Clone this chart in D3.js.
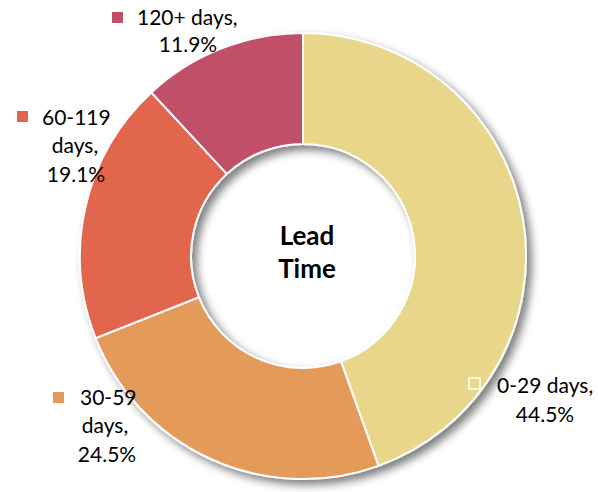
<!DOCTYPE html>
<html><head><meta charset="utf-8">
<script src="https://cdn.jsdelivr.net/npm/d3@7"></script>
<style>body{margin:0;background:#fff}svg{display:block}</style>
</head><body>
<svg id="c" width="598" height="492"></svg>
<script>
const categories = ["0-29 days", "30-59 days", "60-119 days", "120+ days"];
const values = [44.5, 24.5, 19.1, 11.9];
const colors = ["#E8D68A", "#E49A59", "#E2654E", "#C04F68"];
const centerTitle = ["Lead", "Time"];

const svg = d3.select("#c");
const cx = 303, cy = 256, R = 223, r = 112;
const defs = svg.append("defs");
const f = defs.append("filter").attr("id","sh").attr("x","-20%").attr("y","-20%").attr("width","140%").attr("height","140%");
f.append("feDropShadow").attr("dx",5).attr("dy",5).attr("stdDeviation",4).attr("flood-color","#000").attr("flood-opacity",0.5);

const pie = d3.pie().sort(null).value(d=>d)(values);
const arc = d3.arc().innerRadius(r).outerRadius(R);
const g = svg.append("g").attr("transform",`translate(${cx},${cy})`).attr("filter","url(#sh)");
g.selectAll("path").data(pie).join("path")
  .attr("d",arc).attr("fill",(d,i)=>colors[i])
  .attr("stroke","#fff").attr("stroke-width",2);

const font = "Lato, 'Open Sans', sans-serif";
const ct = svg.append("text").attr("text-anchor","middle").attr("font-family",font)
  .attr("font-weight","bold").attr("font-size",26).attr("fill","#000");
centerTitle.forEach((t,i)=>ct.append("tspan").attr("x",307).attr("y",245+i*33).text(t));

const labels = [
  {i:0, marker:[469,378], lines:[["0-29 days,",497,393,"start"],["44.5%",545,422,"middle"]]},
  {i:1, marker:[53,392], lines:[["30-59",80,405,"start"],["days,",105,433,"middle"],[values[1].toFixed(1)+"%",107,462,"middle"]]},
  {i:2, marker:[17,111], lines:[["60-119",42,125,"start"],["days,",75,153,"middle"],[values[2].toFixed(1)+"%",76,182,"middle"]]},
  {i:3, marker:[112,12], lines:[["120+ days,",137,25,"start"],[values[3].toFixed(1)+"%",188,52,"middle"]]}
];
labels.forEach(l=>{
  svg.append("rect").attr("x",l.marker[0]).attr("y",l.marker[1]).attr("width",11).attr("height",11)
    .attr("fill",colors[l.i]).attr("stroke", l.i===0?"#fff":"none").attr("stroke-width",1.5);
  l.lines.forEach(([t,x,y,a])=>{
    svg.append("text").attr("x",x).attr("y",y).attr("text-anchor",a)
      .attr("font-family",font).attr("font-size",21).attr("fill","#000").text(t);
  });
});
</script>
</body></html>
